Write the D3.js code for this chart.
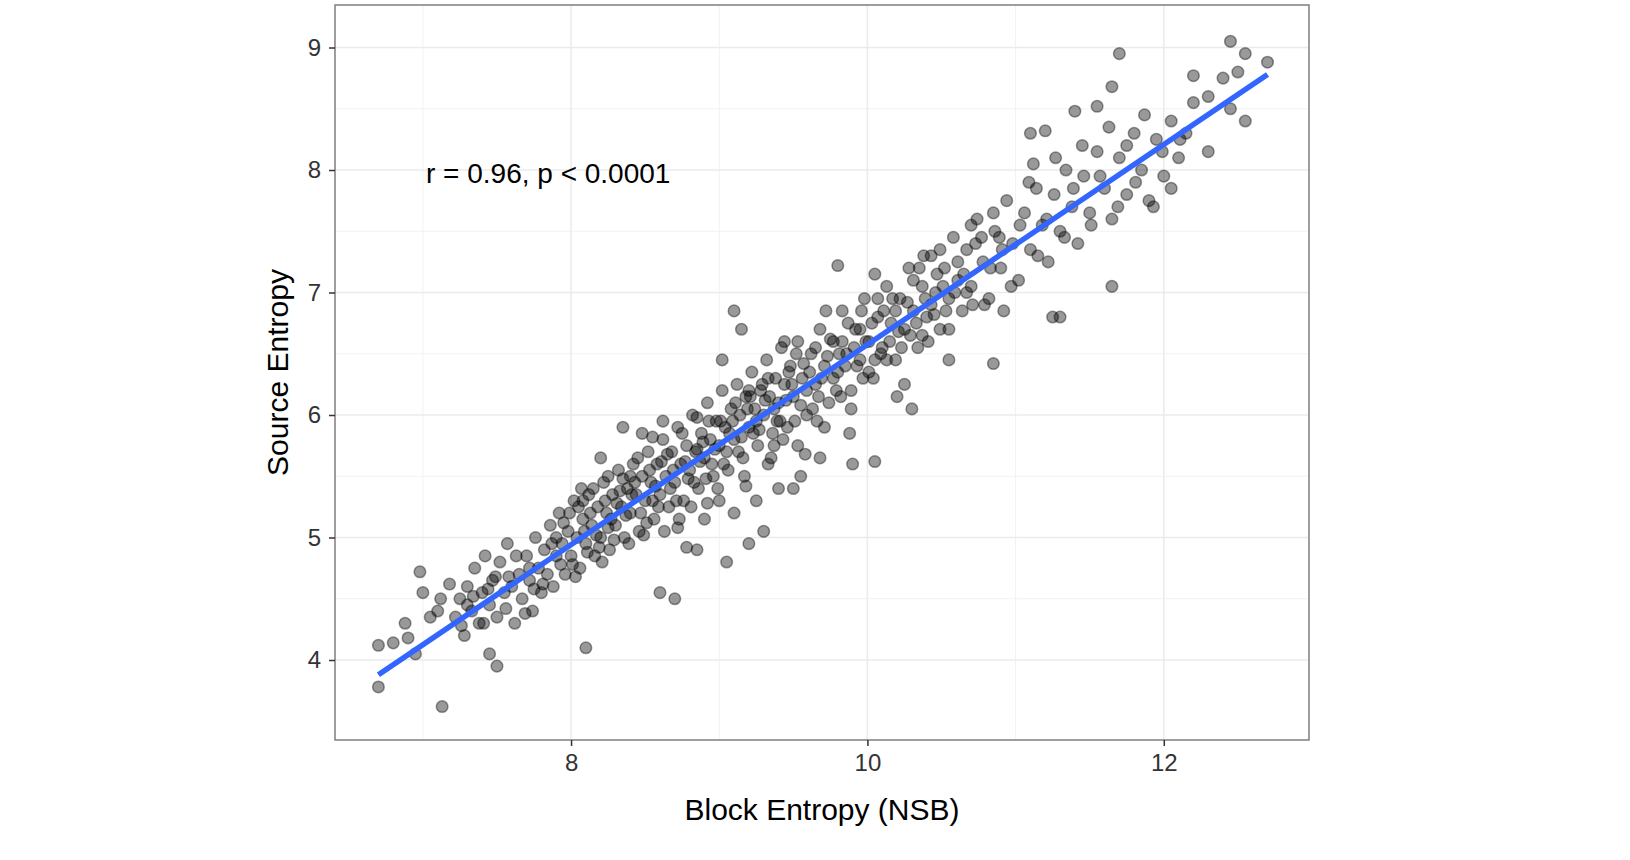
<!DOCTYPE html>
<html><head><meta charset="utf-8">
<script src="https://cdn.jsdelivr.net/npm/d3@7"></script>
<style>body{margin:0;background:#fff}text{font-family:"Liberation Sans",Arial,sans-serif}</style>
</head><body><svg id="c" width="1630" height="860"></svg>
<script>
const xTicks=[8,10,12];
const yTicks=[4,5,6,7,8,9];
const fitLine=[[6.7,3.88],[12.7,8.78]];
const annotation="r = 0.96, p < 0.0001";
const points=[
[6.7,3.78],[7.13,3.62],[6.7,4.12],[6.8,4.14],[6.88,4.3],[6.95,4.05],[6.9,4.18],[6.98,4.72],[7.0,4.55],[7.1,4.4],[7.5,3.95],[7.45,4.05],[8.1,4.1],[8.7,4.5],[8.6,4.55],[9.5,5.4],[9.9,5.6],[10.05,5.62],[10.3,6.05],[10.85,6.42],[9.1,6.85],[9.15,6.7],[9.8,7.22],[11.65,7.05],[11.25,6.8],[11.3,6.8],[11.7,8.95],[12.45,9.05],[12.55,8.95],[12.7,8.88],[12.2,8.77],[12.55,8.4],[12.45,8.5],[12.3,8.15],[11.65,8.68],[11.55,8.52],[11.4,8.48],[11.1,8.3],[11.2,8.32],[8.2,5.65],[8.35,5.9],[8.85,4.9],[9.05,4.8],[9.3,5.05],[9.2,4.95],
[7.22,4.35],[7.25,4.5],[7.28,4.2],[7.3,4.6],[7.33,4.4],[7.35,4.75],[7.38,4.3],[7.4,4.55],[7.42,4.85],[7.45,4.45],[7.47,4.65],[7.5,4.35],[7.52,4.8],[7.55,4.55],[7.57,4.95],[7.6,4.6],[7.62,4.3],[7.65,4.7],[7.67,4.5],[7.7,4.85],[7.72,4.65],[7.74,4.4],[7.76,5.0],[7.78,4.75],[7.8,4.55],[7.82,4.9],[7.84,4.7],[7.86,5.1],[7.88,4.6],[7.9,4.85],[7.92,5.2],[7.94,4.95],[7.96,4.7],[7.98,5.05],[8.0,4.85],[8.02,5.3],[8.04,5.0],[8.06,4.75],[8.08,5.15],[8.1,4.95],[8.12,5.35],[8.14,5.1],[8.16,4.85],[8.18,5.25],[8.2,5.0],[8.22,5.45],[8.24,5.2],[8.26,4.9],[8.28,5.35],[8.3,5.1],[8.32,5.55],[8.34,5.25],[8.36,5.0],[8.38,5.4],[8.4,5.2],[8.42,5.6],[8.44,5.35],[8.46,5.05],[8.48,5.5],[8.5,5.3],[8.52,5.7],[8.54,5.45],[8.56,5.15],[8.58,5.6],[8.6,5.35],[8.62,5.8],[8.64,5.5],[8.66,5.25],[8.68,5.7],[8.7,5.45],[8.72,5.9],[8.74,5.6],[8.76,5.3],[8.78,5.75],[8.8,5.55],[8.82,6.0],[8.84,5.7],[8.86,5.4],[8.88,5.85],[8.9,5.65],[8.92,6.1],[8.94,5.8],[8.96,5.5],[8.98,5.95],[9.0,5.75],[9.02,6.2],[9.04,5.9],[9.06,5.55],[9.08,6.05],[9.1,5.8],[9.12,6.25],[9.14,6.0],[9.16,5.65],[9.18,6.15],[9.2,5.9],[9.22,6.35],[9.24,6.05],[9.26,5.75],[9.28,6.2],[9.3,6.0],[9.32,6.45],[9.34,6.15],[9.36,5.85],[9.38,6.3],[9.4,6.1],[9.42,6.55],[9.44,6.25],[9.46,5.9],[9.48,6.4],[9.5,6.15],[9.53,6.6],[9.56,6.3],[9.59,6.0],[9.62,6.5],[9.65,6.25],[9.68,6.7],[9.71,6.4],[9.74,6.1],[9.77,6.6],[9.8,6.35],[9.83,6.85],[9.86,6.5],[9.89,6.2],[9.92,6.7],[9.95,6.45],[9.98,6.95],[10.01,6.6],[10.04,6.3],[10.07,6.8],[10.1,6.55],[10.13,7.05],[10.16,6.75],[10.19,6.45],[10.22,6.95],[10.25,6.7],[10.28,7.2],[10.31,6.85],[10.34,6.55],[10.37,7.05],[10.4,6.8],[10.43,7.3],[10.46,7.0],[10.49,6.7],[10.52,7.2],[10.55,6.95],[10.58,7.45],[10.61,7.1],[10.64,6.85],[10.67,7.35],[10.7,7.05],[10.74,7.6],[10.78,7.25],[10.82,6.95],[10.86,7.5],[10.9,7.2],[10.94,7.75],[10.98,7.4],[11.02,7.1],[11.06,7.65],[11.1,7.35],[11.14,7.85],[11.18,7.55],[11.22,7.25],[11.26,7.8],[11.3,7.5],[11.34,8.0],[11.38,7.7],[11.42,7.4],[11.46,7.95],[11.5,7.65],[11.55,8.15],[11.6,7.85],[11.65,7.6],[11.7,8.1],[11.75,7.8],[11.8,8.3],[11.85,8.0],[11.9,7.75],[11.95,8.25],[12.0,7.95],[12.05,8.4],[12.1,8.1],[12.15,8.3],[12.2,8.55],[12.3,8.6],[12.4,8.75],[12.5,8.8],
[7.81,4.62],[7.87,4.95],[7.93,4.78],[7.99,5.2],[8.03,4.68],[8.09,5.05],[8.15,5.4],[8.21,4.8],[8.27,5.15],[8.33,5.38],[8.39,4.95],[8.45,5.65],[8.51,5.12],[8.57,5.42],[8.63,5.05],[8.69,5.55],[8.75,5.85],[8.81,5.25],[8.87,5.62],[8.93,5.95],[8.99,5.4],[9.05,5.7],[9.11,6.1],[9.17,5.5],[9.23,5.85],[9.29,6.25],[9.35,5.65],[9.41,5.95],[9.47,6.35],[9.53,5.75],[9.59,6.2],[9.65,6.55],[9.71,5.9],[9.77,6.3],[9.83,6.6],[9.89,6.05],[9.95,6.7],[10.01,6.35],[10.07,6.95],[10.13,6.45],[10.19,6.85],[10.25,6.25],[10.31,7.1],[10.37,6.65],[10.43,6.9],[10.49,7.35],[10.55,6.7],[10.61,7.25],[10.67,7.0],[10.73,7.4],[10.79,6.9],[10.85,7.65],[10.91,7.35],[10.97,7.05],[11.03,7.55],[11.09,7.9],[11.15,7.3],[11.21,7.6],[11.27,8.1],[11.33,7.45],[11.39,7.85],[11.45,8.2],[11.51,7.55],[11.57,7.95],[11.63,8.35],[11.69,7.7],[11.75,8.2],[11.81,7.9],[11.87,8.45],[11.93,7.7],[11.99,8.15],[12.05,7.85],[12.11,8.25],[7.05,4.35],[7.12,4.5],[7.18,4.62],[7.26,4.28],[7.34,4.52],[7.41,4.3],[7.49,4.68],[7.56,4.42],[7.63,4.85],[7.69,4.38],[7.75,4.58],
[8.05,5.25],[8.11,4.88],[8.17,5.02],[8.23,5.3],[8.29,4.98],[8.35,5.48],[8.41,5.35],[8.47,5.2],[8.53,5.55],[8.59,5.25],[8.65,5.68],[8.71,5.3],[8.77,5.62],[8.83,5.45],[8.89,5.78],[8.95,5.6],[9.01,5.95],[9.07,5.85],[9.13,5.7],[9.19,6.05],[9.25,5.95],[9.31,6.12],[9.37,6.05],[9.43,5.8],[9.49,6.25],[9.55,6.08],[9.61,6.35],[9.67,6.15],[9.73,6.48],[9.79,6.2],[9.85,6.4],[9.91,6.55],[9.97,6.3],[10.03,6.75],[10.09,6.5],[10.15,6.6],[10.21,6.68],[10.27,6.92],[10.33,6.75],[10.39,6.95],[10.45,6.82],[10.51,7.05],[8.48,5.85],[8.62,5.95],[8.78,4.92],[8.92,5.28],[9.02,6.45],[9.18,5.42],[9.33,5.6],[9.44,6.6],[9.58,5.68],[9.72,6.85],[9.88,5.85],[10.05,7.15],[10.2,6.15],[10.38,7.3],[10.55,6.45],[10.7,7.55],[10.92,6.85],[11.12,8.05],[9.25,5.3],[9.4,5.4],[9.1,5.2],[8.9,5.15],[9.68,5.65],[9.55,5.5],
[7.95,5.12],[8.01,4.78],[8.07,5.4],[8.13,5.2],[8.19,4.92],[8.25,5.08],[8.31,5.28],[8.37,5.18],[8.43,5.45],[8.49,5.02],[8.55,5.3],[8.61,5.62],[8.67,5.4],[8.73,5.15],[8.79,5.48],[8.85,5.72],[8.91,5.48],[8.97,5.72],[9.03,5.6],[9.09,5.95],[9.15,5.82],[9.21,6.15],[9.27,5.88],[9.33,6.3],[9.39,5.95],[9.45,6.12],[9.51,5.95],[9.57,6.42],[9.63,6.05],[9.69,6.3],[9.75,6.62],[9.81,6.5],[9.87,6.75],[9.93,6.4],[9.99,6.6],[10.05,6.45],[10.11,6.85],[10.17,6.95],[10.23,6.55],[10.29,6.65],[10.35,7.2],[10.41,6.6],[10.47,7.15],[10.53,6.85],[10.59,7.0],[10.65,7.15],[10.71,6.9],[10.77,7.45],[10.83,7.2],[10.89,7.45],[8.55,5.82],[8.72,5.08],[8.85,5.98],[9.0,5.3],[9.2,6.2],[9.37,5.75],[9.52,6.5],[9.66,5.95],[9.82,6.15],[9.96,6.85],[8.4,5.5],[8.25,5.5],[8.08,5.3],[7.9,5.0],[7.72,4.75],[7.58,4.68],[7.44,4.58],[7.3,4.45]
];
const svg=d3.select("#c");
const L=335,R=1309,T=5,B=740;
const x=d3.scaleLinear().domain([6.407,12.98]).range([L,R]);
const y=d3.scaleLinear().domain([3.347,9.347]).range([B,T]);
const g=svg.append("g");
const minorX=[7,9,11], minorY=[4.5,5.5,6.5,7.5,8.5];
g.selectAll(".mx").data(minorX).join("line").attr("x1",d=>x(d)).attr("x2",d=>x(d)).attr("y1",T).attr("y2",B).attr("stroke","#f2f2f2").attr("stroke-width",1);
g.selectAll(".my").data(minorY).join("line").attr("y1",d=>y(d)).attr("y2",d=>y(d)).attr("x1",L).attr("x2",R).attr("stroke","#f2f2f2").attr("stroke-width",1);
g.selectAll(".gx").data(xTicks).join("line").attr("x1",d=>x(d)).attr("x2",d=>x(d)).attr("y1",T).attr("y2",B).attr("stroke","#ebebeb").attr("stroke-width",1.5);
g.selectAll(".gy").data(yTicks).join("line").attr("y1",d=>y(d)).attr("y2",d=>y(d)).attr("x1",L).attr("x2",R).attr("stroke","#ebebeb").attr("stroke-width",1.5);
g.selectAll("circle").data(points).join("circle").attr("cx",d=>x(d[0])).attr("cy",d=>y(d[1])).attr("r",5.8)
 .attr("fill","rgba(0,0,0,0.4)").attr("stroke","rgba(0,0,0,0.4)").attr("stroke-width",1.5);
g.append("line").attr("x1",x(fitLine[0][0])).attr("y1",y(fitLine[0][1])).attr("x2",x(fitLine[1][0])).attr("y2",y(fitLine[1][1]))
 .attr("stroke","#3366ff").attr("stroke-width",5.5);
svg.append("rect").attr("x",L).attr("y",T).attr("width",R-L).attr("height",B-T).attr("fill","none").attr("stroke","#7f7f7f").attr("stroke-width",1.5);
const ax=svg.append("g").attr("transform",`translate(0,${B})`).call(d3.axisBottom(x).tickValues(xTicks).tickFormat(d3.format("d")).tickSize(6).tickPadding(8));
const ay=svg.append("g").attr("transform",`translate(${L},0)`).call(d3.axisLeft(y).tickValues(yTicks).tickFormat(d3.format("d")).tickSize(6).tickPadding(8));
[ax,ay].forEach(a=>{a.select(".domain").remove();a.selectAll("line").attr("stroke","#333").attr("stroke-width",1.5);a.selectAll("text").attr("fill","#333").style("font-size","24px");});
svg.append("text").attr("x",(L+R)/2).attr("y",820).attr("text-anchor","middle").style("font-size","30px").text("Block Entropy (NSB)");
svg.append("text").attr("transform",`translate(288,${(T+B)/2}) rotate(-90)`).attr("text-anchor","middle").style("font-size","30px").text("Source Entropy");
svg.append("text").attr("x",426).attr("y",183).style("font-size","28px").text(annotation);
</script></body></html>
